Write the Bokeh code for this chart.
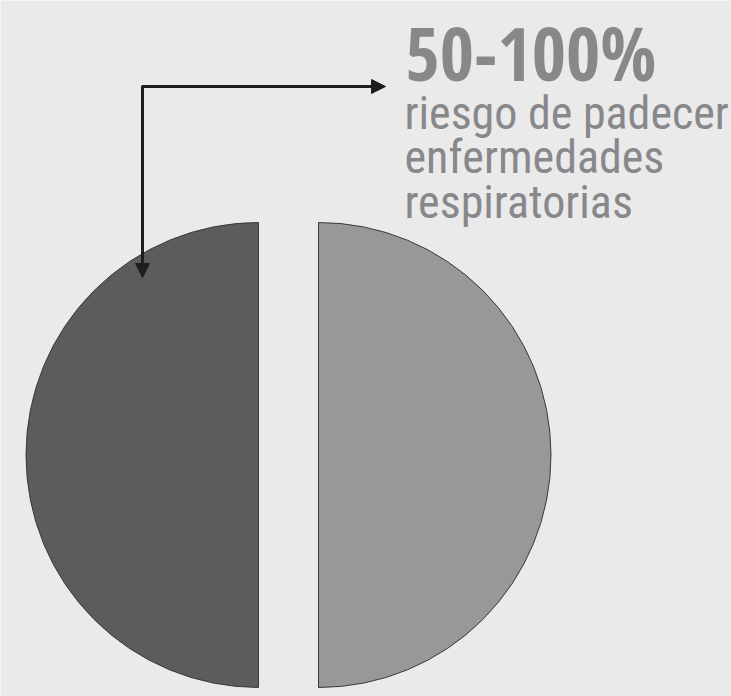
from bokeh.plotting import figure
from bokeh.models import Range1d, Arrow, NormalHead, Label
from bokeh.embed import file_html
from bokeh.resources import INLINE
import math

# data
categories = ["con riesgo", "sin riesgo"]
shares = [50, 50]
colors = ["#5b5c5e", "#98989b"]
headline = "50-100%"
sub_lines = ["riesgo de padecer", "enfermedades", "respiratorias"]

W, H = 731, 696
p = figure(width=W, height=H, output_backend="svg", toolbar_location=None,
           x_range=Range1d(0, W), y_range=Range1d(0, H), min_border=0)
p.axis.visible = False
p.grid.visible = False
p.outline_line_color = None
p.background_fill_color = "#eaeaea"
p.border_fill_color = "#eaeaea"

cy = H - 454.5
r = 232.5
centers = [258, 318]
total = sum(shares)
start = math.pi / 2
for i, s in enumerate(shares):
    end = start + 2 * math.pi * s / total
    p.wedge(x=[centers[i]], y=[cy], radius=r, start_angle=start, end_angle=end,
            fill_color=colors[i], line_color="#3a3a3a", line_width=1)
    start = end

# arrow
ac = "#1e1e1e"
p.line(x=[142, 142], y=[H - 86, H - 270], line_color=ac, line_width=3)
p.add_layout(Arrow(end=NormalHead(size=14, fill_color=ac, line_color=ac),
                   x_start=142, y_start=H - 86, x_end=142, y_end=H - 277,
                   line_color=ac, line_width=3))
p.add_layout(Arrow(end=NormalHead(size=14, fill_color=ac, line_color=ac),
                   x_start=141, y_start=H - 86, x_end=385, y_end=H - 86,
                   line_color=ac, line_width=3))

tc = "#88888a"
p.add_layout(Label(x=405, y=H - 52, text=headline, text_font="Open Sans Condensed",
                   text_font_style="bold", text_font_size="74px", text_color=tc,
                   text_baseline="alphabetic"))
for i, t in enumerate(sub_lines):
    p.add_layout(Label(x=404, y=H - 112 - 44.5 * i, text=t, text_font="Roboto Condensed",
                       text_font_size="46px", text_color=tc, text_baseline="alphabetic"))

open("out.html", "w").write(file_html(p, INLINE))
